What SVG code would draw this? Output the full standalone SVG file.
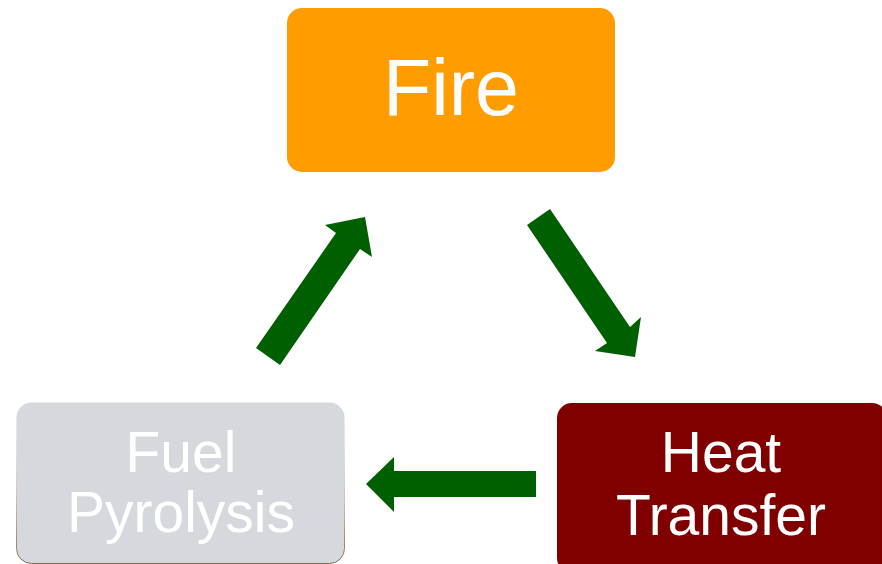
<svg xmlns="http://www.w3.org/2000/svg" width="882" height="564" viewBox="0 0 882 564">
<style>
.lbl{font-family:"Liberation Sans",Arial,sans-serif;fill:#ffffff;text-anchor:middle}
.arrow{fill:#005f00}
</style>
<defs>
<linearGradient id="edge" x1="0" y1="0" x2="0" y2="1">
<stop offset="0" stop-color="#d5d8dc" stop-opacity="0"/>
<stop offset="0.5" stop-color="#b09070" stop-opacity="0.3"/>
<stop offset="1" stop-color="#8a6a4a" stop-opacity="1"/>
</linearGradient>
</defs>
<rect width="882" height="564" fill="#ffffff"/>
<g id="fire">
<rect x="287" y="8" width="328" height="164" rx="15" fill="#ff9c00"/>
<text class="lbl" x="451" y="115" font-size="79">Fire</text>
</g>
<g id="heat-transfer">
<rect x="557" y="403" width="330" height="170" rx="15" fill="#800000"/>
<text class="lbl" x="721" y="472" font-size="57">Heat</text>
<text class="lbl" x="721" y="535" font-size="57">Transfer</text>
</g>
<g id="fuel-pyrolysis">
<rect x="16.5" y="402.5" width="328" height="161" rx="15" fill="#d5d8dc" stroke="url(#edge)" stroke-width="1"/>
<text class="lbl" x="181" y="472" font-size="57" fill="#f8f8f8">Fuel</text>
<text class="lbl" x="181" y="532" font-size="57" fill="#f8f8f8">Pyrolysis</text>
</g>
<g id="connectors">
<polygon class="arrow" points="256,348 280,365 360,249 372,257 365,217 325,225 336,233"/>
<polygon class="arrow" points="550,209 527,225 607,343 595,351 635,357 641,317 630,327"/>
<polygon class="arrow" points="536,471 394,471 394,457 366,484 394,512 394,497 536,497"/>
</g>
</svg>
